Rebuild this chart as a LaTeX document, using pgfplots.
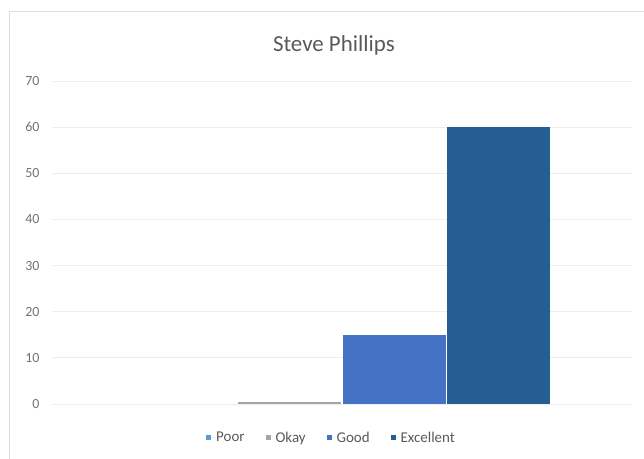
\documentclass[border=0pt]{standalone}
\usepackage{pgfplots}
\pgfplotsset{compat=1.18}
\usepackage{fontspec}
\setmainfont{Carlito}
\definecolor{cpoor}{HTML}{5B9BD5}
\definecolor{cokay}{HTML}{A5A5A5}
\definecolor{cgood}{HTML}{4472C4}
\definecolor{cexc}{HTML}{255E91}
\definecolor{txt}{HTML}{595959}
\begin{document}
\begin{tikzpicture}
\path[use as bounding box] (0bp,0bp) rectangle (644bp,459bp);
\draw[black!13, line width=1bp] (9bp,0bp) -- (9bp,447bp) -- (644bp,447bp);
\begin{axis}[
  at={(52bp,55bp)}, anchor=south west,
  scale only axis, width=580bp, height=323bp,
  ymin=0, ymax=70, ytick={0,10,...,70},
  xmin=-1, xmax=1, xtick=\empty,
  axis line style={draw=none},
  major tick length=0pt,
  ymajorgrids, grid style={black!7, line width=1bp},
  ybar=1.5bp, bar width=103bp,
  /pgf/number format/assume math mode=true,
  yticklabel style={font=\fontsize{14}{16}\selectfont, text=black!55, xshift=-9bp},
  title={Steve Phillips},
  title style={font=\fontsize{23}{27}\selectfont, text=txt, at={(axis description cs:0.486,1.074)}, anchor=base},
  legend style={at={(axis description cs:0.482,-0.105)}, anchor=center, draw=none,
    font=\fontsize{15}{18}\selectfont, text=txt, legend columns=-1,
    /tikz/every even column/.append style={column sep=19bp}},
  legend image code/.code={\fill[#1] (0bp,-2.5bp) rectangle (5bp,2.5bp); \path (0bp,0bp) -- (8bp,0bp);},
]
\addplot[fill=cpoor, draw=none] coordinates {(0,0)};
\addplot[fill=cokay, draw=none] coordinates {(0,0.5)};
\addplot[fill=cgood, draw=none] coordinates {(0,15)};
\addplot[fill=cexc, draw=none] coordinates {(0,60)};
\legend{Poor,Okay,Good,Excellent}
\end{axis}
\end{tikzpicture}
\end{document}
